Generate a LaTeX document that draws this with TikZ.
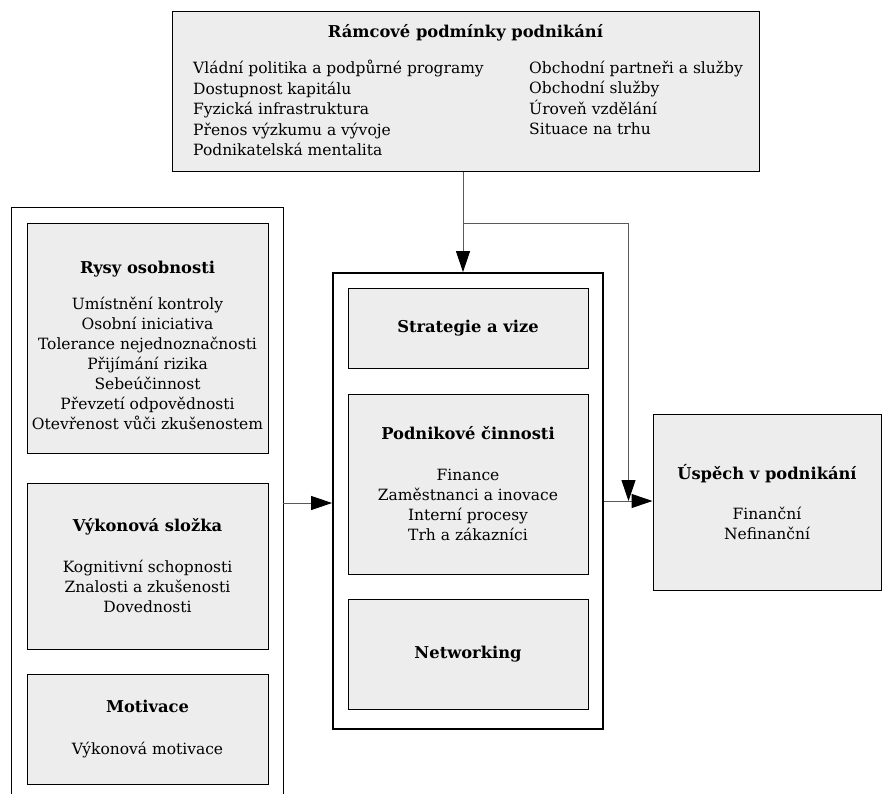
\documentclass[tikz,border=0pt]{standalone}
\usepackage{fontspec}
\setmainfont{DejaVu Serif}
\usetikzlibrary{arrows.meta}
\definecolor{boxgray}{HTML}{EDEDED}
\definecolor{linegray}{HTML}{5A5A5A}
\newcommand{\itemfont}{\fontsize{15.5}{20}\selectfont}
\newcommand{\headfont}{\fontsize{16.3}{20}\selectfont\bfseries}
\tikzset{
  box/.style={draw=black, line width=1pt, fill=boxgray, inner sep=0pt,
    align=center, font=\itemfont},
  frame/.style={draw=black, line width=1.8pt, inner sep=0pt},
  conn/.style={draw=linegray, line width=1pt,
    -{Triangle[length=21pt,width=14pt,color=black]}},
  plain/.style={draw=linegray, line width=1pt},
  col/.style={inner sep=0pt, align=left, anchor=west,
    font=\fontsize{15.5}{20.6}\selectfont},
}
\begin{document}
\begin{tikzpicture}[x=1pt,y=-1pt]
\useasboundingbox (0,0) rectangle (882,794);

% framework conditions
\node[box, minimum width=587pt, minimum height=160pt] (frame) at (465.5,92) {};
\node[inner sep=0pt, font=\headfont] (frametitle) at (465.5,33) {Rámcové podmínky podnikání};
\node[col] (colA) at (193,108) {Vládní politika a podpůrné programy\\Dostupnost kapitálu\\Fyzická infrastruktura\\Přenos výzkumu a vývoje\\Podnikatelská mentalita};
\node[col] (colB) at (529,98) {Obchodní partneři a služby\\Obchodní služby\\Úroveň vzdělání\\Situace na trhu};

% personal characteristics (open at the bottom)
\node[inner sep=0pt, minimum width=271pt, minimum height=586pt] (persona) at (147.5,501) {};
\draw[line width=1pt] (persona.south west) -- (persona.north west) -- (persona.north east) -- (persona.south east);
\node[box, minimum width=241pt, minimum height=230pt] (traits) at (147.5,338) {};
\node[inner sep=0pt, align=center, font=\itemfont] (traitstext) at (147.5,345)
  {{\headfont Rysy osobnosti}\\[16pt]Umístnění kontroly\\Osobní iniciativa\\Tolerance nejednoznačnosti\\Přijímání rizika\\Sebeúčinnost\\Převzetí odpovědnosti\\Otevřenost vůči zkušenostem};
\node[box, minimum width=241pt, minimum height=166pt] (perf) at (147.5,566)
  {{\headfont Výkonová složka}\\[21pt]Kognitivní schopnosti\\Znalosti a zkušenosti\\Dovednosti};
\node[box, minimum width=241pt, minimum height=110pt] (motiv) at (147.5,729)
  {{\headfont Motivace}\\[22pt]Výkonová motivace};

% business activities
\node[frame, minimum width=270pt, minimum height=456pt] (mid) at (468,501) {};
\node[box, minimum width=240pt, minimum height=80pt] (strat) at (468,328) {{\headfont Strategie a vize}};
\node[box, minimum width=240pt, minimum height=180pt] (ops) at (468,484)
  {{\headfont Podnikové činnosti}\\[21pt]Finance\\Zaměstnanci a inovace\\Interní procesy\\Trh a zákazníci};
\node[box, minimum width=240pt, minimum height=110pt] (net) at (468,654) {{\headfont Networking}};

% business success
\node[box, minimum width=228pt, minimum height=176pt] (success) at (767,502)
  {{\headfont Úspěch v podnikání}\\[20pt]Finanční\\Nefinanční};

% connectors
\coordinate (split) at (463,223);
\coordinate (join) at (628.5,501);
\coordinate (lvl) at (0,503);
\draw[plain] (frame.south -| split) -- (split);
\draw[conn] (split) -- (mid.north -| split);
\draw[conn] (split) -| (join);
\draw[conn] (persona.east |- lvl) -- (mid.west |- lvl);
\draw[conn] (mid.east) -- (success.west |- mid.east);
\end{tikzpicture}
\end{document}
